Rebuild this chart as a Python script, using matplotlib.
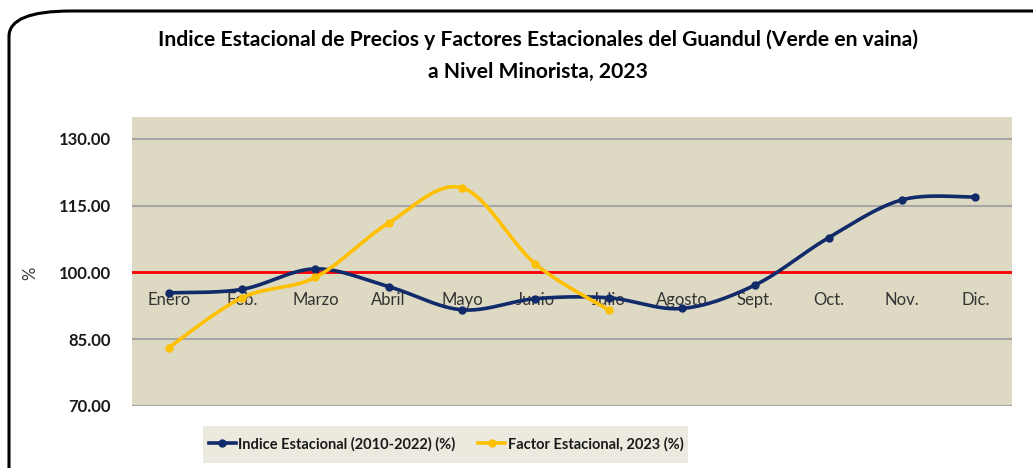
import numpy as np
import matplotlib
matplotlib.use("Agg")
import matplotlib.pyplot as plt
from matplotlib.patches import FancyBboxPatch, Rectangle

plt.rcParams['font.family'] = ['Liberation Sans Narrow', 'Lato', 'DejaVu Sans']

meses = ["Enero", "Feb.", "Marzo", "Abril", "Mayo", "Junio", "Julio",
         "Agosto", "Sept.", "Oct.", "Nov.", "Dic."]
indice = [95.4, 96.2, 100.8, 96.8, 91.6, 94.1, 94.3, 91.9, 97.2, 107.8, 116.3, 116.9]
factor = [83.1, 94.3, 98.9, 111.1, 119.0, 101.9, 91.6]

navy = "#102A6A"
amarillo = "#FFC000"


def suavizar(y, n=30):
    # curva tipo Excel (Catmull-Rom como Bezier)
    y = np.asarray(y, dtype=float)
    x = np.arange(len(y), dtype=float)
    px = np.concatenate([[x[0]], x, [x[-1]]])
    py = np.concatenate([[y[0]], y, [y[-1]]])
    xs, ys = [], []
    t = np.linspace(0, 1, n)
    for i in range(1, len(px) - 2):
        p0 = np.array([px[i], py[i]])
        p3 = np.array([px[i + 1], py[i + 1]])
        p1 = p0 + (np.array([px[i + 1], py[i + 1]]) - np.array([px[i - 1], py[i - 1]])) / 6
        p2 = p3 - (np.array([px[i + 2], py[i + 2]]) - np.array([px[i], py[i]])) / 6
        pts = ((1 - t)[:, None] ** 3 * p0 + 3 * ((1 - t) ** 2 * t)[:, None] * p1
               + 3 * ((1 - t) * t ** 2)[:, None] * p2 + (t ** 3)[:, None] * p3)
        xs.extend(pts[:, 0])
        ys.extend(pts[:, 1])
    return np.array(xs), np.array(ys)


fig = plt.figure(figsize=(10.33, 4.68), dpi=100)
fig.patch.set_facecolor("white")

borde = FancyBboxPatch((9 / 1033, -0.2), 1.2, (468 - 11) / 468 + 0.2,
                       boxstyle="round,pad=0,rounding_size=0.06",
                       transform=fig.transFigure, fill=False,
                       edgecolor="black", linewidth=2.2, mutation_aspect=468 / 1033 * 2)
fig.patches.append(borde)

ax = fig.add_axes([132 / 1033, 62 / 468, 880 / 1033, 289 / 468])
ax.set_facecolor("#DDD9C3")
for s in ax.spines.values():
    s.set_visible(False)

ax.set_xlim(-0.5, 11.5)
ax.set_ylim(70, 134.9)
ax.set_yticks([70, 85, 100, 115, 130])
ax.set_yticklabels(["70.00", "85.00", "100.00", "115.00", "130.00"],
                   fontsize=12, fontweight="bold", color="#1a1a1a")
ax.tick_params(axis="y", length=0, pad=15)
ax.set_xticks([])
ax.yaxis.grid(True, color="#A6A6A6", linewidth=1.5)
ax.set_axisbelow(True)

ax.axhline(100, color="#FF0000", linewidth=2, zorder=2)

for i, m in enumerate(meses):
    ax.text(i, 93.8, m, ha="center", va="center", fontsize=12, color="#333333", zorder=3)

xs, ys = suavizar(indice)
ax.plot(xs, ys, color=navy, linewidth=2.6, zorder=4, solid_capstyle="round")
ax.plot(range(len(indice)), indice, "o", color=navy, markersize=5, zorder=5)

xs, ys = suavizar(factor)
ax.plot(xs, ys, color=amarillo, linewidth=2.6, zorder=4, solid_capstyle="round")
ax.plot(range(len(factor)), factor, "o", color=amarillo, markersize=5, zorder=5)

fig.text(30 / 1033, 1 - 273 / 468, "%", rotation=90, ha="center", va="center",
         fontsize=12, color="#333333")

fig.text(538 / 1033, 1 - 40 / 468, "Indice Estacional de Precios y Factores Estacionales del Guandul (Verde en vaina)",
         ha="center", va="center", fontsize=15.2, fontweight="bold", color="black")
fig.text(538 / 1033, 1 - 72 / 468, "a Nivel Minorista, 2023",
         ha="center", va="center", fontsize=15.2, fontweight="bold", color="black")

# fondo de la leyenda
fig.patches.append(Rectangle((203 / 1033, 1 - 463 / 468), 485 / 1033, 37 / 468,
                             transform=fig.transFigure, facecolor="#ECE9DF",
                             edgecolor="none", zorder=0))

h1, = ax.plot([], [], color=navy, linewidth=2.6, marker="o", markersize=5)
h2, = ax.plot([], [], color=amarillo, linewidth=2.6, marker="o", markersize=5)
leg = fig.legend([h1, h2], ["Indice Estacional (2010-2022) (%)", "Factor Estacional, 2023 (%)"],
                 loc="center", bbox_to_anchor=(446 / 1033, 1 - 444 / 468), ncol=2,
                 frameon=False, fontsize=10.5, handlelength=1.85,
                 handletextpad=0.15, columnspacing=1.6, borderpad=0.3)
for t in leg.get_texts():
    t.set_fontweight("bold")
    t.set_color("#1a1a1a")

fig.savefig("out.png", dpi=100)
